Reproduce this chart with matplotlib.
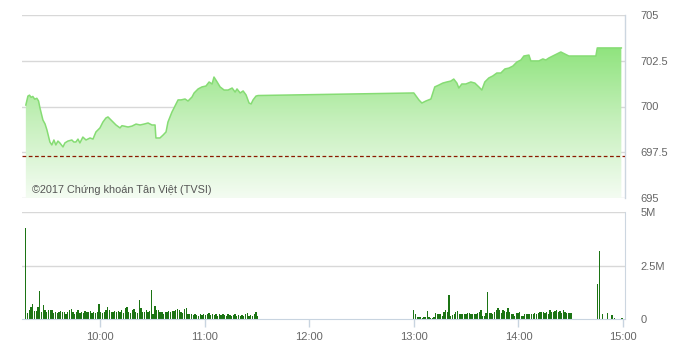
import numpy as np
import matplotlib
matplotlib.use('Agg')
import matplotlib.pyplot as plt
from matplotlib.colors import LinearSegmentedColormap
from matplotlib.patches import PathPatch

# ---------------- data ----------------
# price: time in minutes after 09:00, value in index points
price_time = [17.5, 18.7, 19.6, 20.5, 21.5, 22.6, 23.8, 24.8, 25.6, 27.3, 28.5, 29.6,
              31.3, 32.4, 33.6, 34.7, 35.9, 37.0, 38.8, 39.9, 41.6, 43.9, 45.0, 46.2,
              47.4, 48.5, 50.2, 52.0, 54.3, 56.0, 57.7, 60.0, 61.7, 63.4, 64.6, 66.9,
              69.2, 71.5, 72.6, 73.8, 76.1, 78.4, 80.7, 83.0, 85.3, 87.6, 89.8, 91.6,
              92.1, 94.4, 96.2, 97.9, 99.0, 101.3, 103.6, 104.8, 106.5, 108.8, 110.5,
              112.8, 114.0, 116.3, 118.5, 120.8, 122.6, 124.3, 125.4, 127.2, 128.9,
              131.2, 133.5, 135.8, 137.5, 138.6, 140.4, 142.1, 143.8, 145.5, 146.7,
              147.8, 149.5, 150.7,
              240.0, 242.9, 244.6, 246.9, 249.8, 252.0, 254.3, 256.6, 258.9, 261.2,
              262.9, 264.7, 265.8, 267.5, 269.8, 272.7, 275.0, 277.3, 279.0, 280.7,
              283.0, 285.3, 287.6, 289.9, 292.2, 294.5, 296.8, 299.1, 301.4, 303.1,
              306.0, 307.1, 309.4, 311.7, 314.0, 315.7, 317.4, 319.7, 322.0, 324.3,
              326.6, 328.9, 330.6, 344.4, 345.2, 359.0]
price = [700.08, 700.57, 700.62, 700.50, 700.55, 700.40, 700.45, 700.30, 699.92, 699.26,
         699.05, 698.72, 698.06, 697.90, 698.17, 697.90, 698.11, 698.01, 697.79, 698.01,
         698.11, 698.17, 698.06, 698.06, 698.22, 698.01, 698.33, 698.17, 698.28, 698.22,
         698.61, 698.83, 699.15, 699.37, 699.43, 699.21, 698.99, 698.83, 698.95, 698.93,
         698.88, 698.93, 699.04, 698.99, 699.04, 699.10, 698.99, 698.99, 698.28, 698.28,
         698.44, 698.61, 699.15, 699.70, 700.14, 700.36, 700.36, 700.41, 700.30, 700.52,
         700.74, 700.96, 701.07, 701.12, 701.34, 701.23, 701.61, 701.34, 701.07, 700.90,
         700.90, 701.01, 700.79, 700.96, 700.74, 700.85, 700.63, 700.19, 700.14, 700.36,
         700.57, 700.60,
         700.74, 700.36, 700.19, 700.30, 700.41, 701.07, 701.17, 701.28, 701.34, 701.39,
         701.50, 701.28, 701.01, 701.23, 701.23, 701.34, 701.28, 701.07, 700.90, 701.34,
         701.56, 701.67, 701.83, 701.83, 702.05, 702.10, 702.21, 702.43, 702.54, 702.76,
         702.81, 702.49, 702.49, 702.49, 702.60, 702.54, 702.65, 702.76, 702.87, 702.98,
         702.87, 702.76, 702.76, 702.76, 703.20, 703.20]
ref_price = 697.28

# volume (millions), morning session bars (09:17 -> 11:30)
vol_am = [4.24, 0.26, 0.42, 0.58, 0.70, 0.37, 0.37, 0.55, 1.31, 0.34, 0.65, 0.42, 0.34,
          0.42, 0.42, 0.42, 0.26, 0.34, 0.26, 0.34, 0.37, 0.31, 0.34, 0.22, 0.31, 0.42,
          0.47, 0.34, 0.22, 0.34, 0.42, 0.26, 0.34, 0.26, 0.39, 0.34, 0.31, 0.37, 0.26,
          0.34, 0.26, 0.34, 0.70, 0.34, 0.26, 0.34, 0.42, 0.55, 0.42, 0.34, 0.31, 0.37,
          0.34, 0.39, 0.34, 0.42, 0.26, 0.50, 0.58, 0.31, 0.26, 0.42, 0.47, 0.34, 0.26,
          0.89, 0.50, 0.34, 0.31, 0.42, 0.34, 0.37, 1.37, 0.22, 0.62, 0.42, 0.42, 0.34,
          0.34, 0.25, 0.34, 0.31, 0.39, 0.34, 0.37, 0.37, 0.42, 0.47, 0.40, 0.34, 0.26,
          0.45, 0.50, 0.22, 0.22,
          0.22, 0.19, 0.22, 0.19, 0.16, 0.22, 0.19, 0.25, 0.19, 0.22, 0.28, 0.19, 0.22,
          0.19, 0.22, 0.16, 0.22, 0.19, 0.25, 0.19, 0.16, 0.22, 0.19, 0.16, 0.19, 0.22,
          0.16, 0.19, 0.16, 0.19, 0.16, 0.22, 0.28, 0.16, 0.19, 0.16, 0.22, 0.31, 0.16]
vol_am_span = (17.5, 150.5)
# afternoon session bars (13:00 -> 14:30)
vol_pm = [0.42, 0.23, 0.11, 0.09, 0.08, 0.06, 0.09, 0.11, 0.37, 0.11, 0.06, 0.06, 0.09,
          0.26, 0.22, 0.23, 0.22, 0.16, 0.34, 0.42, 0.34, 1.12, 0.16, 0.19, 0.22, 0.34,
          0.37, 0.22, 0.22, 0.22, 0.25, 0.22, 0.26, 0.28, 0.22, 0.25, 0.25, 0.22, 0.28,
          0.34, 0.42, 0.16, 0.14, 0.26, 1.26, 0.26, 0.30, 0.22, 0.34, 0.42, 0.53, 0.42,
          0.26, 0.42, 0.37, 0.31, 0.50, 0.34, 0.22, 0.22, 0.16, 0.26, 0.28, 0.31, 0.16,
          0.16, 0.22, 0.25, 0.22, 0.23, 0.25, 0.25, 0.28, 0.25, 0.26, 0.34, 0.31, 0.34,
          0.28, 0.31, 0.25, 0.42, 0.31, 0.34, 0.37, 0.42, 0.31, 0.37, 0.26, 0.42, 0.31,
          0.26, 0.26, 0.26, 0.26]
vol_pm_span = (240.0, 330.6)
# closing auction and later trades
vol_late_time = [345.4, 346.3, 348.0, 351.0, 353.6, 355.0, 359.4]
vol_late = [1.64, 3.19, 0.23, 0.26, 0.19, 0.03, 0.06]

xtick_pos = [60, 120, 180, 240, 300, 360]
xtick_labels = ['10:00', '11:00', '12:00', '13:00', '14:00', '15:00']
price_ticks = [695, 697.5, 700, 702.5, 705]
price_tick_labels = ['695', '697.5', '700', '702.5', '705']
vol_ticks = [0, 2.5, 5]
vol_tick_labels = ['0', '2.5M', '5M']
watermark = '©2017 Chứng khoán Tân Việt (TVSI)'

# ---------------- style ----------------
FONT = ['Liberation Sans Narrow', 'Liberation Sans', 'DejaVu Sans']
plt.rcParams['font.family'] = FONT
GRID = '#d8d8d8'
LABEL = '#666666'
XMIN, XMAX = 15.3, 361.1

fig = plt.figure(figsize=(6.77, 3.49), dpi=100)
ax = fig.add_axes([22 / 677, 1 - 198 / 349, 603 / 677, 183 / 349])
axv = fig.add_axes([22 / 677, 1 - 319 / 349, 603 / 677, 107 / 349])

# --- price panel ---
for v in price_ticks:
    ax.axhline(v, color=GRID, lw=1, zorder=0)
poly = ax.fill_between(price_time, price, 695, facecolor='none', lw=0)
path = poly.get_paths()[0]
patch = PathPatch(path, transform=ax.transData, facecolor='none', edgecolor='none')
ax.add_patch(patch)
cmap = LinearSegmentedColormap.from_list('g', ['#f4fcf2', '#c6f0bc', '#8de37b'])
grad = np.linspace(1, 0, 256).reshape(-1, 1)
im = ax.imshow(grad, extent=[XMIN, XMAX, 695, 703.4], aspect='auto', cmap=cmap,
               origin='upper', zorder=1)
im.set_clip_path(patch)
ax.plot(price_time, price, color='#86dc74', lw=1.1, zorder=2)
ax.axhline(ref_price, color='#8b1a00', lw=0.9, ls=(0, (3, 2)), zorder=3)

ax.set_xlim(XMIN, XMAX)
ax.set_ylim(695, 705)
ax.set_xticks([])
ax.yaxis.tick_right()
ax.set_yticks(price_ticks)
ax.set_yticklabels(price_tick_labels)
ax.tick_params(axis='y', length=0, pad=11, labelsize=8, labelcolor=LABEL)
for lab in ax.get_yticklabels():
    lab.set_horizontalalignment('left')
for s in ['top', 'left', 'bottom']:
    ax.spines[s].set_visible(False)
ax.spines['right'].set_color('#ccd6e0')
ax.spines['right'].set_linewidth(1)
ax.text(10 / 603, 0.044, watermark, transform=ax.transAxes, fontsize=7.8,
        color='#555555', ha='left', va='center', zorder=4)

# --- volume panel ---
for v in vol_ticks[1:]:
    axv.axhline(v, color=GRID, lw=1, zorder=0)
t_am = np.linspace(vol_am_span[0], vol_am_span[1], len(vol_am))
t_pm = np.linspace(vol_pm_span[0], vol_pm_span[1], len(vol_pm))
bar_c = '#1c7414'
axv.bar(t_am, vol_am, width=0.75, color=bar_c, lw=0, zorder=2)
axv.bar(t_pm, vol_pm, width=0.75, color=bar_c, lw=0, zorder=2)
axv.bar(vol_late_time, vol_late, width=0.75, color=bar_c, lw=0, zorder=2)

axv.set_xlim(XMIN, XMAX)
axv.set_ylim(0, 5)
axv.yaxis.tick_right()
axv.set_yticks(vol_ticks)
axv.set_yticklabels(vol_tick_labels)
axv.tick_params(axis='y', length=0, pad=11, labelsize=8, labelcolor=LABEL)
for lab in axv.get_yticklabels():
    lab.set_horizontalalignment('left')
axv.set_xticks(xtick_pos)
axv.set_xticklabels(xtick_labels)
axv.tick_params(axis='x', length=6, width=1, color='#c8d4e0', labelsize=8,
                labelcolor=LABEL, pad=3)
for s in ['top', 'left']:
    axv.spines[s].set_visible(False)
axv.spines['right'].set_color('#ccd6e0')
axv.spines['bottom'].set_color('#c8d4e0')

fig.savefig('out.png', dpi=100)
